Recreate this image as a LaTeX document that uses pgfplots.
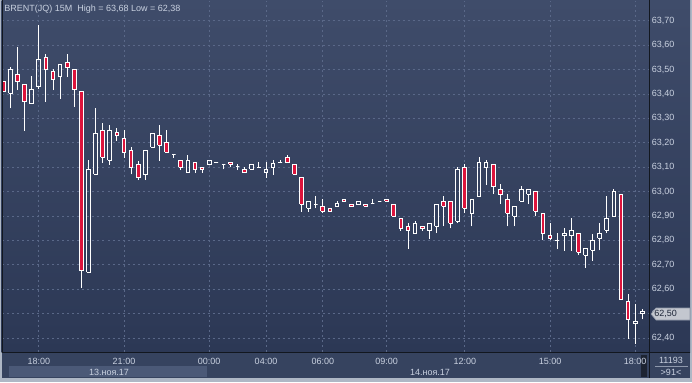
\documentclass[border=0pt]{standalone}
\usepackage{pgfplots}
\pgfplotsset{compat=1.18}
\usepackage{pgfplotstable}
\usepackage{fontspec}
\setmainfont{Liberation Sans}
\definecolor{candlered}{HTML}{DC143C}
\definecolor{bgtop}{HTML}{3F4C6A}
\definecolor{bgbot}{HTML}{2C3855}
\definecolor{gridc}{HTML}{5A6888}
\definecolor{txt}{HTML}{C9D1E0}
\definecolor{panel}{HTML}{36435F}
\definecolor{band}{HTML}{4B5977}
\definecolor{frame}{HTML}{AEB7C5}
\definecolor{sep}{HTML}{12171F}
\definecolor{mark}{HTML}{C3C7CF}
\definecolor{markd}{HTML}{8E96A6}
\definecolor{markt}{HTML}{1E2638}

\pgfplotstableread{
i o h l c
0 63.453 63.453 63.412 63.412
1 63.402 63.511 63.341 63.502
2 63.480 63.592 63.416 63.450
3 63.439 63.439 63.249 63.368
4 63.360 63.473 63.360 63.419
5 63.430 63.682 63.420 63.542
6 63.550 63.562 63.368 63.501
7 63.493 63.502 63.416 63.460
8 63.470 63.521 63.380 63.521
9 63.530 63.564 63.470 63.509
10 63.501 63.501 63.348 63.419
11 63.411 63.411 62.606 62.675
12 62.669 63.129 62.669 63.091
13 63.070 63.342 63.070 63.239
14 63.251 63.281 63.118 63.140
15 63.128 63.273 63.109 63.251
16 63.240 63.259 63.208 63.230
17 63.218 63.252 63.139 63.161
18 63.169 63.182 63.070 63.098
19 63.111 63.125 63.047 63.057
20 63.070 63.169 63.047 63.169
21 63.181 63.239 63.181 63.239
22 63.230 63.273 63.126 63.189
23 63.202 63.252 63.161 63.161
24 63.150 63.150 63.139 63.150
25 63.126 63.126 63.088 63.099
26 63.079 63.150 63.079 63.126
27 63.120 63.120 63.077 63.091
28 63.099 63.099 63.077 63.091
29 63.111 63.128 63.111 63.128
30 63.120 63.120 63.120 63.120
31 63.112 63.112 63.091 63.112
32 63.120 63.120 63.099 63.111
33 63.102 63.113 63.088 63.102
34 63.091 63.099 63.077 63.077
35 63.091 63.111 63.091 63.111
36 63.099 63.120 63.099 63.099
37 63.077 63.120 63.057 63.091
38 63.099 63.129 63.069 63.113
39 63.120 63.129 63.120 63.120
40 63.140 63.150 63.120 63.120
41 63.111 63.111 63.070 63.070
42 63.057 63.057 62.917 62.948
43 62.931 62.960 62.917 62.960
44 62.948 62.982 62.931 62.948
45 62.939 62.968 62.911 62.919
46 62.931 62.931 62.919 62.919
47 62.939 62.961 62.939 62.949
48 62.968 62.968 62.960 62.960
49 62.948 62.948 62.939 62.939
50 62.948 62.960 62.948 62.960
51 62.948 62.948 62.939 62.939
52 62.949 62.969 62.949 62.949
53 62.960 62.960 62.960 62.960
54 62.968 62.968 62.960 62.960
55 62.948 62.948 62.898 62.898
56 62.890 62.890 62.839 62.849
57 62.857 62.870 62.766 62.841
58 62.829 62.878 62.829 62.870
59 62.857 62.857 62.839 62.849
60 62.841 62.870 62.807 62.870
61 62.857 62.948 62.829 62.948
62 62.960 62.982 62.857 62.939
63 62.960 62.960 62.849 62.870
64 62.878 63.100 62.870 63.091
65 63.099 63.113 62.911 62.931
66 62.911 62.968 62.857 62.968
67 62.980 63.141 62.980 63.120
68 63.099 63.129 63.028 63.120
69 63.111 63.111 62.989 63.021
70 63.009 63.031 62.948 62.989
71 62.968 62.989 62.857 62.911
72 62.898 62.939 62.857 62.939
73 62.960 63.021 62.960 63.009
74 62.989 63.009 62.948 63.009
75 63.001 63.001 62.898 62.919
76 62.911 62.911 62.801 62.829
77 62.820 62.870 62.800 62.808
78 62.801 62.829 62.764 62.801
79 62.821 62.849 62.757 62.829
80 62.821 62.891 62.757 62.841
81 62.829 62.829 62.739 62.751
82 62.739 62.767 62.688 62.767
83 62.759 62.824 62.716 62.800
84 62.808 62.870 62.759 62.829
85 62.841 62.982 62.829 62.890
86 62.898 63.011 62.898 63.001
87 62.989 62.989 62.558 62.558
88 62.550 62.579 62.397 62.476
89 62.460 62.539 62.376 62.468
90 62.499 62.519 62.476 62.507
}\candles

\begin{document}
\begin{tikzpicture}[x=0.5pt,y=0.5pt]
\useasboundingbox (0,0) rectangle (692,382);
% backgrounds
\fill[frame] (0,0) rectangle (692,382);
\shade[top color=bgtop, bottom color=bgbot] (1.5,30) rectangle (690,382);
\fill[panel] (1.5,4) rectangle (690,30);
\fill[band] (9,5.5) rectangle (207,16);
\fill[sep!70!panel] (641,5) rectangle (647,27);

\begin{axis}[
  at={(1.25pt,15pt)}, anchor=south west,
  scale only axis, width=323.25pt, height=175.5pt,
  xmin=-0.113, xmax=90.94, ymin=62.342, ymax=63.781,
  axis line style={draw=none},
  major tick length=0pt,
  xtick={5,17,29,37,45,54,65,77,89},
  xticklabels={18:00,21:00,00:00,04:00,06:00,09:00,12:00,15:00,18:00},
  ytick={62.4,62.5,...,63.75},
  yticklabel pos=right,
  yticklabel style={anchor=west, xshift=-0.25pt, inner sep=1.5pt},
  xticklabel style={yshift=-1.25pt, inner sep=1.5pt},
  tick label style={text=txt, font=\fontsize{4.5}{5}\selectfont},
  /pgf/number format/.cd, fixed, fixed zerofill, precision=2, use comma, assume math mode=true,
  /pgfplots/.cd,
  grid=major,
  major grid style={gridc, dash pattern=on 1pt off 1.5pt, line width=0.35pt},
]
\pgfplotsforeachungrouped \r in {0,...,90}{%
  \pgfplotstablegetelem{\r}{o}\of\candles\let\cO\pgfplotsretval
  \pgfplotstablegetelem{\r}{h}\of\candles\let\cH\pgfplotsretval
  \pgfplotstablegetelem{\r}{l}\of\candles\let\cL\pgfplotsretval
  \pgfplotstablegetelem{\r}{c}\of\candles\let\cC\pgfplotsretval
  \ifdim\cC pt<\cO pt \def\fc{candlered}\let\mn\cC\let\mx\cO
  \else \def\fc{none}\let\mn\cO\let\mx\cC\fi
  \pgfmathsetmacro\xa{\r-0.26}\pgfmathsetmacro\xb{\r+0.26}%
  \edef\doit{%
    \noexpand\addplot[white, line width=0.5pt, unbounded coords=jump, forget plot]
      coordinates {(\r,\cL) (\r,\mn) (\r,nan) (\r,\mx) (\r,\cH)};
    \noexpand\addplot[draw=white, fill=\fc, line width=0.5pt, line join=miter, forget plot]
      coordinates {(\xa,\mn) (\xb,\mn) (\xb,\mx) (\xa,\mx) (\xa,\mn)};}%
  \doit
}
\end{axis}

% separators
\draw[sep, line width=0.5pt] (649,4) -- (649,382);
\draw[sep, line width=0.5pt] (1.5,29.5) -- (690,29.5);
\draw[sep, line width=0.5pt] (2,30) -- (2,382);

% title
\node[anchor=west, text=txt, font=\fontsize{4.5}{5}\selectfont, inner sep=0pt] at (4,373) {BRENT(JQ) 15M\ \ High = 63,68 Low = 62,38};

% date labels
\node[text=txt, font=\fontsize{4.5}{5}\selectfont, inner sep=0pt] at (109,10) {13.ноя.17};
\node[text=txt, font=\fontsize{4.5}{5}\selectfont, inner sep=0pt] at (430,10) {14.ноя.17};

% bottom right box
\node[text=txt, font=\fontsize{4.5}{5}\selectfont, inner sep=0pt] at (671,21.5) {11193};
\node[text=txt, font=\fontsize{4.5}{5}\selectfont, inner sep=0pt] at (671,10) {>91<};
\draw[txt!60!panel, line width=0.3pt] (655,16) -- (688,16);

% current price marker
\filldraw[fill=mark, draw=markd, line width=0.3pt] (651,68) -- (656,74) -- (690,74) -- (690,62) -- (656,62) -- cycle;
\node[anchor=west, text=markt, font=\fontsize{4.5}{5}\selectfont, inner sep=0pt] at (654,68) {62,50};
\end{tikzpicture}
\end{document}
